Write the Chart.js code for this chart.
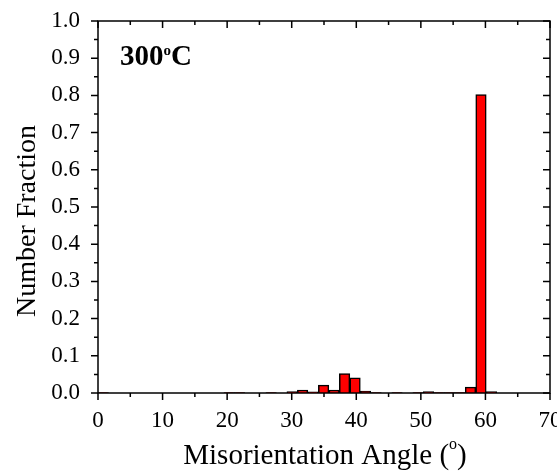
<!DOCTYPE html>
<html>
<head>
<meta charset="utf-8">
<script src="https://cdn.jsdelivr.net/npm/chart.js@4"></script>
<style>
  html, body { margin: 0; padding: 0; background: #fff; }
  #wrap { width: 557px; height: 471px; }
</style>
</head>
<body>
<div id="wrap"><canvas id="histChart"></canvas></div>
<script>
// bin centres (deg), bin width 1.625
const binCenters = [0.8125, 2.4375, 4.0625, 5.6875, 7.3125, 8.9375, 10.5625, 12.1875, 13.8125, 15.4375,
  17.0625, 18.6875, 20.3125, 21.9375, 23.5625, 25.1875, 26.8125, 28.4375, 30.0625, 31.6875,
  33.3125, 34.9375, 36.5625, 38.1875, 39.8125, 41.4375, 43.0625, 44.6875, 46.3125, 47.9375,
  49.5625, 51.1875, 52.8125, 54.4375, 56.0625, 57.6875, 59.3125, 60.9375, 62.5625, 64.1875];
const fractions = [0.001, 0, 0, 0, 0, 0, 0, 0, 0, 0,
  0, 0, 0.001, 0.001, 0, 0, 0.001, 0, 0.004, 0.008,
  0.003, 0.021, 0.008, 0.052, 0.041, 0.005, 0.001, 0, 0.001, 0,
  0.001, 0.004, 0.001, 0.001, 0.001, 0.016, 0.802, 0.004, 0, 0];
const xTicks = [0, 10, 20, 30, 40, 50, 60, 70];
const yTicks = [0, 0.1, 0.2, 0.3, 0.4, 0.5, 0.6, 0.7, 0.8, 0.9, 1.0];

const serif = '"Liberation Serif", "Times New Roman", serif';

// frame, inward/outward ticks and the text labels
const framePlugin = {
  id: 'frame',
  afterDatasetsDraw(chart) {
    const { ctx, chartArea: a, scales: { x, y } } = chart;
    ctx.save();
    ctx.strokeStyle = '#000';
    ctx.lineWidth = 1.5;
    ctx.strokeRect(a.left, a.top, a.right - a.left, a.bottom - a.top);

    ctx.beginPath();
    for (let v = 0; v <= 70; v += 5) {
      const px = x.getPixelForValue(v);
      const len = v % 10 === 0 ? 7 : 4;
      ctx.moveTo(px, a.bottom); ctx.lineTo(px, a.bottom + len);
      ctx.moveTo(px, a.top); ctx.lineTo(px, a.top + len);
    }
    for (let i = 0; i <= 20; i++) {
      const py = y.getPixelForValue(i * 0.05);
      const len = i % 2 === 0 ? 7 : 4;
      ctx.moveTo(a.left, py); ctx.lineTo(a.left - len, py);
      ctx.moveTo(a.right, py); ctx.lineTo(a.right - len, py);
    }
    ctx.stroke();

    ctx.fillStyle = '#000';
    ctx.textBaseline = 'alphabetic';
    ctx.textAlign = 'left';

    // temperature label
    ctx.font = 'bold 29px ' + serif;
    let tx = a.left + 22;
    ctx.fillText('300', tx, 65);
    tx += ctx.measureText('300').width;
    ctx.font = 'bold 15px ' + serif;
    ctx.fillText('o', tx, 55);
    tx += ctx.measureText('o').width;
    ctx.font = 'bold 29px ' + serif;
    ctx.fillText('C', tx, 65);

    // x title
    ctx.font = '29px ' + serif;
    const p1 = 'Misorientation Angle (';
    const w1 = ctx.measureText(p1).width;
    const w3 = ctx.measureText(')').width;
    ctx.font = '16px ' + serif;
    const w2 = ctx.measureText('o').width;
    let sx = 325 - (w1 + w2 + w3) / 2;
    ctx.font = '29px ' + serif;
    ctx.fillText(p1, sx, 464);
    ctx.font = '16px ' + serif;
    ctx.fillText('o', sx + w1, 449);
    ctx.font = '29px ' + serif;
    ctx.fillText(')', sx + w1 + w2, 464);

    // y title
    ctx.translate(35, 221);
    ctx.rotate(-Math.PI / 2);
    ctx.textAlign = 'center';
    ctx.font = '28px ' + serif;
    ctx.fillText('Number Fraction', 0, 0);
    ctx.restore();
  }
};

new Chart(document.getElementById('histChart').getContext('2d'), {
  type: 'bar',
  data: {
    datasets: [{
      data: binCenters.map((c, i) => ({ x: c, y: fractions[i] })),
      backgroundColor: '#ff0000',
      borderColor: '#000',
      borderWidth: 1.5,
      barPercentage: 1,
      categoryPercentage: 1
    }]
  },
  options: {
    responsive: true,
    maintainAspectRatio: false,
    animation: false,
    layout: { padding: { top: 21, right: 7, left: 0, bottom: 0 } },
    plugins: { legend: { display: false }, tooltip: { enabled: false } },
    scales: {
      x: {
        type: 'linear',
        offset: false,
        min: 0,
        max: 70,
        afterBuildTicks: axis => { axis.ticks = xTicks.map(v => ({ value: v })); },
        afterFit: axis => { axis.height = 78; axis.paddingRight = 0; axis.paddingLeft = 0; },
        grid: { display: false },
        border: { display: false },
        ticks: { color: '#000', padding: 6, maxRotation: 0, font: { family: serif, size: 23 } }
      },
      y: {
        min: 0,
        max: 1,
        afterBuildTicks: axis => { axis.ticks = yTicks.map(v => ({ value: v })); },
        afterFit: axis => { axis.width = 98; axis.paddingTop = 0; axis.paddingBottom = 0; },
        grid: { display: false },
        border: { display: false },
        ticks: { color: '#000', padding: 10, callback: v => v.toFixed(1), font: { family: serif, size: 23 } }
      }
    }
  },
  plugins: [framePlugin]
});
</script>
</body>
</html>
